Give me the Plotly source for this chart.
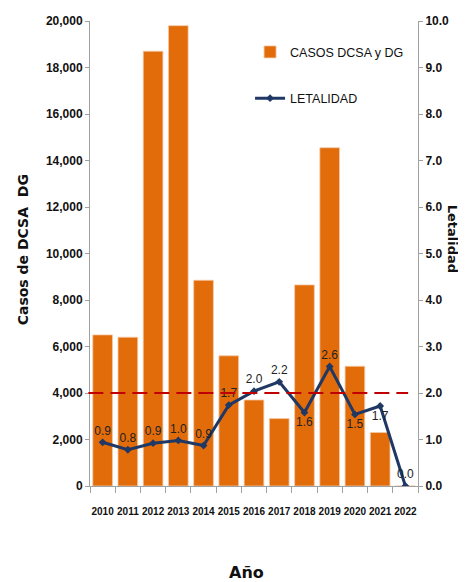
import plotly.graph_objects as go

years = ["2010", "2011", "2012", "2013", "2014", "2015", "2016", "2017",
         "2018", "2019", "2020", "2021", "2022"]
casos = [6500, 6400, 18700, 19800, 8850, 5600, 3700, 2900, 8650, 14550, 5150, 2300, 0]
letalidad = [0.94, 0.78, 0.92, 0.98, 0.87, 1.74, 2.04, 2.24, 1.58, 2.57, 1.54, 1.72, 0.0]
label_pos = ["top center"] * 8 + ["bottom center", "top center", "bottom center",
                                   "bottom center", "top center"]
umbral = 2.0

NARROW = "Liberation Sans, Arial, sans-serif"
BOLDF = "DejaVu Sans, Verdana, sans-serif"

fig = go.Figure()

fig.add_trace(go.Bar(
    x=years, y=casos, name="CASOS DCSA y DG", yaxis="y",
    marker=dict(color="#E36C0A", line=dict(color="#F2C9A8", width=0.8)),
    legendgroup="a",
))

fig.add_trace(go.Scatter(
    x=years, y=letalidad, name="LETALIDAD", mode="lines+markers+text", yaxis="y2",
    line=dict(color="#1F3864", width=3),
    marker=dict(color="#1F3864", size=6, symbol="diamond"),
    text=[f"{v:.1f}" for v in letalidad], textposition=label_pos,
    textfont=dict(family=NARROW, size=12, color="#222222"),
    legendgroup="b",
))

fig.add_shape(type="line", xref="paper", yref="y2", x0=-0.005, x1=0.97,
              y0=umbral, y1=umbral, line=dict(color="#C00000", width=2, dash="15px,7px"))

tickfont = dict(family=NARROW, size=12, color="#111111", weight="bold")

fig.update_layout(
    width=466, height=582, autosize=False,
    margin=dict(l=82, r=56, t=13, b=104, autoexpand=False),
    paper_bgcolor="white", plot_bgcolor="white",
    bargap=0.22,
    showlegend=True,
    legend=dict(x=0.488, y=0.965, xanchor="left", yanchor="top",
                font=dict(family=NARROW, size=12.5, color="#111111"),
                tracegroupgap=27, bgcolor="rgba(0,0,0,0)", itemwidth=30),
    font=dict(family=NARROW, color="#111111"),
    xaxis=dict(
        type="category", domain=[0, 1], range=[-0.5, 12.5],
        showline=True, linecolor="#A0A0A0", linewidth=1,
        ticks="outside", tickson="boundaries", ticklen=6, tickcolor="#A0A0A0",
        tickfont=dict(family=NARROW, size=10, color="#111111", weight="bold"),
        ticklabelstandoff=16,
        tickangle=0, automargin=False, showgrid=False,
    ),
    yaxis=dict(
        range=[0, 20000], dtick=2000, tickformat=",", showgrid=False, zeroline=False,
        showline=True, linecolor="#A0A0A0", linewidth=1, ticks="outside",
        ticklen=4, tickcolor="#A0A0A0", automargin=False, tickfont=tickfont,
    ),
    yaxis2=dict(
        range=[0, 10], dtick=1, tickformat=".1f", showgrid=False, zeroline=False,
        overlaying="y", side="right", anchor="x",
        showline=True, linecolor="#A0A0A0", linewidth=1, ticks="outside",
        ticklen=4, tickcolor="#A0A0A0", automargin=False, tickfont=tickfont,
    ),
)

fig.add_annotation(text="<b>Casos de DCSA  DG</b>", xref="paper", yref="paper",
                   x=-0.204, y=0.507, xanchor="center", yanchor="middle",
                   textangle=-90, showarrow=False,
                   font=dict(family=BOLDF, size=14, color="#111111"))
fig.add_annotation(text="<b>Letalidad</b>", xref="paper", yref="paper",
                   x=1.105, y=0.531, xanchor="center", yanchor="middle",
                   textangle=90, showarrow=False,
                   font=dict(family=BOLDF, size=13, color="#111111"))
fig.add_annotation(text="<b>Año</b>", xref="paper", yref="paper",
                   x=0.476, y=-0.186, xanchor="center", yanchor="middle",
                   showarrow=False,
                   font=dict(family=BOLDF, size=16, color="#111111"))

fig.write_html("out.html")
